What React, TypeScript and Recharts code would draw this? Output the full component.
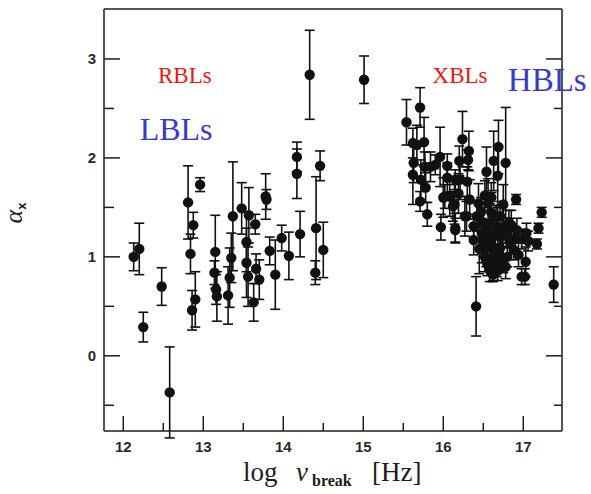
import { ErrorBar, Label, ReferenceDot, Scatter, ScatterChart, XAxis, YAxis } from 'recharts';

// log nu_break vs alpha_x. Left group = LBL/RBL region, right group = HBL/XBL region.
const lblX = [12.13, 12.2, 12.25, 12.48, 12.58, 12.81, 12.96, 12.875, 12.84, 12.9, 12.86, 13.15, 13.14, 13.16, 13.17,
  13.37, 13.35, 13.33, 13.31, 13.48, 13.57, 13.65, 13.54, 13.54, 13.56, 13.66, 13.7, 13.63, 13.78, 13.79, 13.83,
  13.9, 13.98, 14.07, 14.17, 14.17, 14.21, 14.46, 14.41, 14.4, 14.5, 14.33, 15.01];
const lblY = [1.0, 1.08, 0.29, 0.7, -0.37, 1.55, 1.73, 1.32, 1.03, 0.57, 0.46, 1.05, 0.84, 0.67, 0.6,
  1.41, 0.99, 0.79, 0.61, 1.49, 1.42, 1.33, 1.15, 0.94, 0.8, 0.88, 0.77, 0.54, 1.61, 1.58, 1.06,
  0.82, 1.19, 1.01, 2.01, 1.84, 1.23, 1.92, 1.29, 0.84, 1.07, 2.84, 2.79];
const lblErr = [0.14, 0.26, 0.15, 0.19, 0.46, 0.37, 0.07, 0.13, 0.2, 0.28, 0.2, 0.37, 0.12, 0.15, 0.25,
  0.55, 0.25, 0.3, 0.29, 0.26, 0.28, 0.1, 0.3, 0.35, 0.3, 0.15, 0.2, 0.19, 0.23, 0.1, 0.14,
  0.35, 0.13, 0.24, 0.15, 0.25, 0.23, 0.15, 0.52, 0.12, 0.28, 0.45, 0.24];

const hblX = [15.54, 15.71, 15.62, 15.67, 15.76, 15.63, 15.62, 15.77, 15.72, 15.78, 15.71, 15.8, 15.84, 15.9, 15.96,
  15.97, 16.0, 16.05, 16.05, 16.08, 16.15, 16.14, 16.2, 16.24, 16.32, 16.31, 16.21, 16.19, 16.3, 16.27, 16.33,
  16.41, 16.38, 16.69, 16.63, 16.78, 16.54, 16.68, 16.91, 17.23, 17.19, 17.17, 17.38, 17.03, 16.98, 17.02,
  16.02, 16.12, 16.44, 16.56, 16.75, 16.42, 16.58, 16.71, 16.48, 16.63, 16.79, 16.92, 17.04, 16.54, 16.71, 16.88,
  16.58, 16.75, 16.94, 16.58, 16.67, 16.29, 16.38, 16.5, 16.6, 16.65, 16.68, 16.83, 16.85, 16.62, 16.52, 16.45,
  16.72, 16.8, 16.9, 16.55, 16.15, 16.15, 16.47, 16.52, 16.6, 16.66, 16.82, 16.98, 17.06, 16.5, 16.62, 16.7,
  16.78, 16.62, 16.68, 16.55, 16.74, 16.6];
const hblY = [2.36, 2.51, 2.15, 2.13, 2.16, 1.95, 1.83, 1.91, 1.78, 1.7, 1.56, 1.43, 1.91, 1.93, 2.01,
  1.3, 1.6, 1.92, 1.8, 1.61, 1.29, 1.53, 1.97, 2.19, 2.07, 1.98, 1.78, 1.64, 1.76, 1.41, 1.58,
  0.5, 1.17, 2.11, 1.97, 1.95, 1.86, 1.82, 1.58, 1.45, 1.29, 1.13, 0.72, 0.95, 0.8, 0.8,
  1.61, 1.51, 1.54, 1.54, 1.53, 1.41, 1.34, 1.41, 1.24, 1.22, 1.24, 1.27, 1.24, 1.1, 1.09, 1.07,
  0.97, 0.99, 1.02, 0.87, 0.92, 1.41, 1.31, 1.35, 1.18, 1.05, 1.3, 1.15, 1.32, 0.85, 1.0, 1.08,
  1.2, 1.0, 1.18, 1.25, 1.78, 1.27, 1.45, 1.62, 1.45, 1.4, 1.35, 1.18, 1.16, 1.15, 1.1, 0.98,
  0.9, 0.82, 0.86, 0.93, 1.3, 1.6];
const hblErr = [0.23, 0.2, 0.15, 0.2, 0.25, 0.2, 0.3, 0.15, 0.2, 0.15, 0.1, 0.12, 0.15, 0.1, 0.3,
  0.13, 0.2, 0.12, 0.15, 0.2, 0.15, 0.2, 0.15, 0.28, 0.2, 0.1, 0.2, 0.2, 0.15, 0.2, 0.2,
  0.3, 0.15, 0.27, 0.3, 0.56, 0.25, 0.3, 0.05, 0.05, 0.05, 0.05, 0.18, 0.15, 0.08, 0.08,
  0.12, 0.15, 0.2, 0.25, 0.2, 0.15, 0.2, 0.15, 0.3, 0.2, 0.15, 0.12, 0.1, 0.2, 0.15, 0.1,
  0.1, 0.15, 0.12, 0.12, 0.12, 0.15, 0.12, 0.15, 0.18, 0.12, 0.2, 0.12, 0.15, 0.1, 0.15, 0.25,
  0.1, 0.1, 0.1, 0.1, 0.1, 0.12, 0.15, 0.15, 0.2, 0.12, 0.12, 0.1, 0.1, 0.15, 0.15, 0.12,
  0.12, 0.06, 0.1, 0.12, 0.2, 0.15];

const xTicks = [12, 12.5, 13, 13.5, 14, 14.5, 15, 15.5, 16, 16.5, 17];
const yTicks = [-0.5, 0, 0.5, 1, 1.5, 2, 2.5, 3];

const INK = '#1c1c1c';
const X_DOMAIN = [11.759, 17.484];
const Y_DOMAIN = [-0.76, 3.505];

const lblData = lblX.map((x, i) => ({ x, y: lblY[i], err: lblErr[i] }));
const hblData = hblX.map((x, i) => ({ x, y: hblY[i], err: hblErr[i] }));

const isMajor = (v: number) => Math.abs(v - Math.round(v)) < 1e-6;
const tickFont = { fontFamily: 'Liberation Sans, Arial, sans-serif', fontSize: 15, fontWeight: 'bold' as const, fill: '#2a2a2a' };

// ticks point inward on all four sides, labels only on bottom/left majors
const BottomTick = ({ x, y, payload }: any) => {
  const major = isMajor(payload.value);
  return (
    <g>
      <line x1={x} y1={y} x2={x} y2={y - (major ? 15 : 8)} stroke={INK} strokeWidth={1.5} />
      {major && <text x={x} y={y + 21} textAnchor="middle" {...tickFont}>{payload.value}</text>}
    </g>
  );
};
const TopTick = ({ x, y, payload }: any) => (
  <line x1={x} y1={y} x2={x} y2={y + (isMajor(payload.value) ? 16 : 8)} stroke={INK} strokeWidth={1.5} />
);
const LeftTick = ({ x, y, payload }: any) => {
  const major = isMajor(payload.value);
  return (
    <g>
      <line x1={x} y1={y} x2={x + (major ? 16 : 10)} y2={y} stroke={INK} strokeWidth={1.5} />
      {major && <text x={x - 8} y={y + 5} textAnchor="end" {...tickFont}>{payload.value}</text>}
    </g>
  );
};
const RightTick = ({ x, y, payload }: any) => (
  <line x1={x} y1={y} x2={x - (isMajor(payload.value) ? 16 : 8)} y2={y} stroke={INK} strokeWidth={1.5} />
);

const Dot = (p: any) => <circle cx={p.cx} cy={p.cy} r={5.2} fill="#111" />;

const serif = 'Liberation Serif, Times New Roman, serif';

export default function App() {
  return (
    <div style={{ position: 'absolute', left: 0, top: 0, width: 591, height: 494, background: '#fff' }}>
      <ScatterChart width={591} height={494} margin={{ top: 4, right: 19, left: 44, bottom: 23 }}>
        <XAxis dataKey="x" type="number" domain={X_DOMAIN} ticks={xTicks} interval={0} allowDataOverflow
          tickSize={0} tickMargin={0} tick={<BottomTick />} tickLine={false} height={40}
          axisLine={{ stroke: INK, strokeWidth: 1.5 }}>
          <Label content={() => (
            <text y={481} fontFamily={serif} fontSize={27} fill={INK}>
              <tspan x={243}>log</tspan>
              <tspan x={296} fontStyle="italic">ν</tspan>
              <tspan x={312} dy={5} fontSize={16} fontWeight="bold">break</tspan>
              <tspan x={372} dy={-5}>[Hz]</tspan>
            </text>
          )} />
        </XAxis>
        <XAxis xAxisId="top" orientation="top" type="number" domain={X_DOMAIN} ticks={xTicks} interval={0} allowDataOverflow
          tickSize={0} tickMargin={0} tick={<TopTick />} tickLine={false} height={5}
          axisLine={{ stroke: INK, strokeWidth: 1.5 }} />
        <YAxis dataKey="y" type="number" domain={Y_DOMAIN} ticks={yTicks} interval={0} allowDataOverflow
          tickSize={0} tickMargin={0} tick={<LeftTick />} tickLine={false} width={60}
          axisLine={{ stroke: INK, strokeWidth: 1.5 }}>
          <Label content={() => (
            <text x={22} y={213} transform="rotate(-90, 22, 213)" textAnchor="middle" fill={INK}>
              <tspan fontFamily={serif} fontStyle="italic" fontSize={26}>α</tspan>
              <tspan dy={4} fontFamily="Liberation Sans, Arial, sans-serif" fontWeight="bold" fontSize={13}>x</tspan>
            </text>
          )} />
        </YAxis>
        <YAxis yAxisId="right" orientation="right" type="number" domain={Y_DOMAIN} ticks={yTicks} interval={0} allowDataOverflow
          tickSize={0} tickMargin={0} tick={<RightTick />} tickLine={false} width={10}
          axisLine={{ stroke: INK, strokeWidth: 1.5 }} />
        <Scatter data={lblData} shape={<Dot />} isAnimationActive={false}>
          <ErrorBar dataKey="err" direction="y" width={5} stroke="#111" strokeWidth={1.6} isAnimationActive={false} />
        </Scatter>
        <Scatter data={hblData} shape={<Dot />} isAnimationActive={false}>
          <ErrorBar dataKey="err" direction="y" width={5} stroke="#111" strokeWidth={1.6} isAnimationActive={false} />
        </Scatter>
        <ReferenceDot x={12.77} y={2.84} r={0} label={{ value: 'RBLs', position: 'center', fill: '#f01414', fontSize: 23, fontFamily: serif }} />
        <ReferenceDot x={12.66} y={2.3} r={0} label={{ value: 'LBLs', position: 'center', fill: '#3a3ac8', fontSize: 32, fontFamily: serif }} />
        <ReferenceDot x={16.21} y={2.84} r={0} label={{ value: 'XBLs', position: 'center', fill: '#f01414', fontSize: 23, fontFamily: serif }} />
        <ReferenceDot x={17.3} y={2.79} r={0} label={{ value: 'HBLs', position: 'center', fill: '#3a3ac8', fontSize: 33, fontFamily: serif }} />
      </ScatterChart>
    </div>
  );
}
